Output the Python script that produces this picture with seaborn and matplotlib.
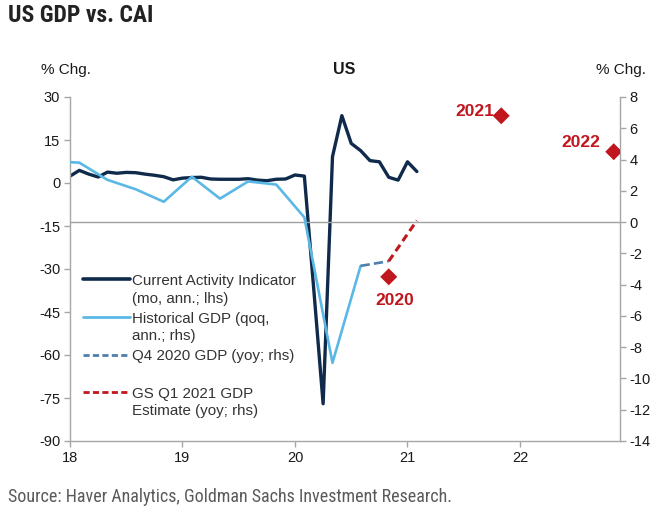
import numpy as np
import pandas as pd
import matplotlib
matplotlib.use("Agg")
import matplotlib.pyplot as plt
import seaborn as sns
from matplotlib import font_manager as fm
from matplotlib.font_manager import FontProperties
from matplotlib.lines import Line2D

# ---------------- data ----------------
cai_months = [f"{y}-{m:02d}" for y in (2018, 2019, 2020) for m in range(1, 13)] + ["2021-01", "2021-02"]
cai_values = [2.4, 4.4, 3.1, 2.1, 3.8, 3.4, 3.7, 3.6, 3.1, 2.7, 2.2, 1.1,
              1.7, 1.9, 2.0, 1.4, 1.3, 1.3, 1.3, 1.5, 1.0, 0.8, 1.3, 1.4,
              2.8, 2.4, -37.0, -77.0, 9.2, 23.5, 13.8, 11.3, 7.8, 7.4, 2.0, 1.0,
              7.4, 4.0]

gdp_months = ["2017-11", "2018-02", "2018-05", "2018-08", "2018-11", "2019-02", "2019-05",
              "2019-08", "2019-11", "2020-02", "2020-05", "2020-08"]
gdp_values = [3.9, 3.8, 2.7, 2.1, 1.3, 2.9, 1.5, 2.6, 2.4, 0.3, -9.0, -2.8]

q4_months = ["2020-08", "2020-11"]
q4_values = [-2.8, -2.5]

gs_months = ["2020-11", "2021-02"]
gs_values = [-2.5, 0.1]

annual_months = ["2020-11", "2021-11", "2022-11"]
annual_values = [-3.5, 6.8, 4.5]
annual_labels = ["2020", "2021", "2022"]

x_ticks = [2018, 2019, 2020, 2021, 2022]
x_ticklabels = ["18", "19", "20", "21", "22"]
lhs_ticks = [30, 15, 0, -15, -30, -45, -60, -75, -90]
rhs_ticks = [8, 6, 4, 2, 0, -2, -4, -6, -8, -10, -12, -14]

legend_labels = ["Current Activity Indicator\n(mo, ann.; lhs)",
                 "Historical GDP (qoq,\nann.; rhs)",
                 "Q4 2020 GDP (yoy; rhs)\n ",
                 "GS Q1 2021 GDP\nEstimate (yoy; rhs)"]


def to_year(ms):
    out = []
    for s in ms:
        y, m = s.split("-")
        out.append(int(y) + (int(m) - 1) / 12.0)
    return np.array(out)


# ---------------- style ----------------
sns.set_theme(style="white")
names = {f.name for f in fm.fontManager.ttflist}
body = "Liberation Sans" if "Liberation Sans" in names else "DejaVu Sans"
narrow = next((n for n in ["Liberation Sans Narrow", "DejaVu Sans Condensed", "Roboto Condensed"] if n in names), None)
plt.rcParams["font.family"] = [body, "DejaVu Sans"]

NAVY = "#102a4c"
LIGHT = "#5ab8e6"
STEEL = "#4d7fae"
RED = "#c0161e"
SPINE = "#a6a6a6"

fig = plt.figure(figsize=(6.7, 5.18), dpi=100)
ax = fig.add_axes([70 / 670, 1 - 441 / 518, 550 / 670, 344 / 518])
ax2 = ax.twinx()

df_cai = pd.DataFrame({"x": to_year(cai_months), "y": cai_values})
df_gdp = pd.DataFrame({"x": to_year(gdp_months), "y": gdp_values})
df_q4 = pd.DataFrame({"x": to_year(q4_months), "y": q4_values})
df_gs = pd.DataFrame({"x": to_year(gs_months), "y": gs_values})
df_ann = pd.DataFrame({"x": to_year(annual_months), "y": annual_values, "lab": annual_labels})

sns.lineplot(data=df_cai, x="x", y="y", ax=ax, color=NAVY, lw=2.4, legend=False)
ax2.axhline(0, color="#a0a0a0", lw=1.0, zorder=0)
sns.lineplot(data=df_gdp, x="x", y="y", ax=ax2, color=LIGHT, lw=1.9, legend=False)
sns.lineplot(data=df_q4, x="x", y="y", ax=ax2, color=STEEL, lw=1.9, legend=False,
             linestyle=(0, (3.5, 1.6)))
sns.lineplot(data=df_gs, x="x", y="y", ax=ax2, color=RED, lw=2.2, legend=False,
             linestyle=(0, (2.5, 1.5)))
sns.scatterplot(data=df_ann, x="x", y="y", ax=ax2, marker="D", s=75, color=RED,
                edgecolor="none", legend=False, zorder=5)

offsets = {"2020": ((4, -17), "center", "center"),
           "2021": ((-5, 3), "right", "center"),
           "2022": ((-10, 7), "right", "center")}
for _, r in df_ann.iterrows():
    off, ha, va = offsets[r["lab"]]
    ax2.annotate(r["lab"], (r["x"], r["y"]), xytext=off, textcoords="offset points",
                 ha=ha, va=va, color=RED, fontsize=12.5, fontweight="bold")

ax.set_xlim(2018, 2022.889)
ax.set_ylim(-90, 30)
ax2.set_ylim(-14, 8)
ax.set_xticks(x_ticks)
ax.set_xticklabels(x_ticklabels)
ax.set_yticks(lhs_ticks)
ax.set_yticklabels([str(v) for v in lhs_ticks])
ax2.set_yticks(rhs_ticks)
ax2.set_yticklabels([str(v) for v in rhs_ticks])
ax.set_xlabel("")
ax.set_ylabel("")
ax2.set_ylabel("")

for a in (ax, ax2):
    for s in a.spines.values():
        s.set_color(SPINE)
        s.set_linewidth(1.0)
    a.spines["top"].set_visible(False)
    a.grid(False)
ax.spines["right"].set_visible(False)
ax2.spines["left"].set_visible(False)
ax2.spines["bottom"].set_visible(False)

ax.tick_params(axis="both", direction="out", length=4, width=1, color=SPINE,
               labelsize=10.5, labelcolor="#1a1a1a", pad=3, left=True, bottom=True)
ax2.tick_params(axis="y", direction="out", length=4, width=1, color=SPINE,
                labelsize=10.5, labelcolor="#1a1a1a", pad=3, right=True)

handles = [Line2D([], [], color=NAVY, lw=2.6),
           Line2D([], [], color=LIGHT, lw=2.0),
           Line2D([], [], color=STEEL, lw=2.0, linestyle=(0, (2.2, 1.2))),
           Line2D([], [], color=RED, lw=2.0, linestyle=(0, (2.2, 1.2)))]
leg = ax2.legend(handles, legend_labels, loc="upper left",
                 bbox_to_anchor=(0.0236, 0.485), frameon=False, fontsize=10.9,
                 handlelength=3.1, handletextpad=0.15, labelspacing=0.4,
                 borderpad=0, borderaxespad=0)
for t in leg.get_texts():
    t.set_color("#333333")
    t.set_linespacing(1.32)
try:
    for col in leg._legend_handle_box.get_children():
        for item in col.get_children():
            item.align = "top"
except Exception:
    pass

# ---------------- texts ----------------
if narrow:
    title_fp = FontProperties(family=narrow, weight="bold", size=17)
    src_fp = FontProperties(family=narrow, size=13)
else:
    title_fp = FontProperties(family="DejaVu Sans", weight="bold", stretch="condensed", size=15)
    src_fp = FontProperties(family="DejaVu Sans", stretch="condensed", size=11.3)

fig.text(8 / 670, 1 - 16 / 518, "US GDP vs. CAI", fontproperties=title_fp,
         color="#222222", ha="left", va="center")
fig.text(66 / 670, 1 - 70 / 518, "% Chg.", fontsize=11, color="#1a1a1a", ha="center", va="center")
fig.text(621 / 670, 1 - 70 / 518, "% Chg.", fontsize=11, color="#1a1a1a", ha="center", va="center")
fig.text(344 / 670, 1 - 70 / 518, "US", fontsize=11.5, fontweight="bold", color="#1a1a1a",
         ha="center", va="center")
fig.text(8 / 670, 1 - 497 / 518, "Source: Haver Analytics, Goldman Sachs Investment Research.",
         fontproperties=src_fp, color="#5a5a5a", ha="left", va="center")

fig.savefig("out.png", dpi=100, facecolor="white")
